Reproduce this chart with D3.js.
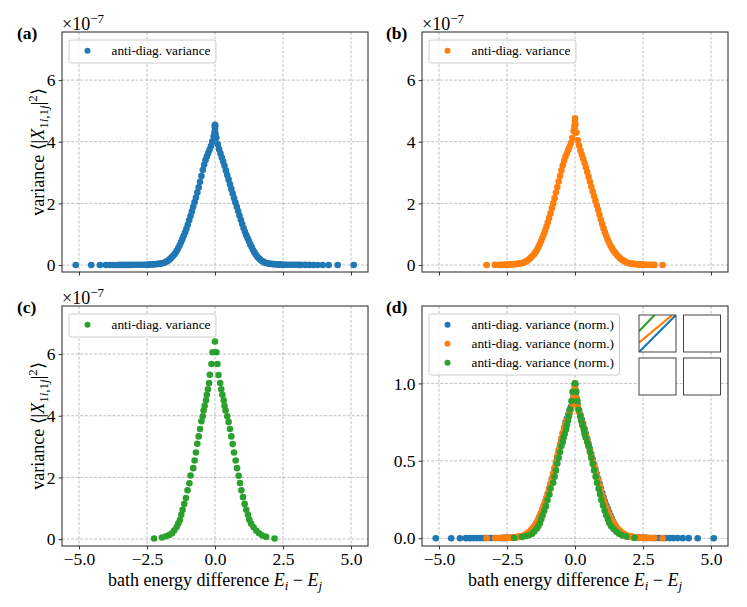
<!DOCTYPE html>
<html><head><meta charset="utf-8">
<script src="https://cdn.jsdelivr.net/npm/d3@7"></script>
<style>
body{margin:0;background:#fff}
svg{display:block}
text{font-family:"Liberation Serif","Times New Roman",serif;fill:#000}
</style>
</head><body>
<svg id="fig" width="747" height="607"></svg>
<script>
// ---------------- data (variance values in units of 1e-7) ----------------
const xTicks = [-5, -2.5, 0, 2.5, 5];
const xTickLabels = ["−5.0", "−2.5", "0.0", "2.5", "5.0"];
const yTicksRaw = [0, 2, 4, 6];
const yTickLabelsRaw = ["0", "2", "4", "6"];
const yTicksNorm = [0, 0.5, 1.0];
const yTickLabelsNorm = ["0.0", "0.5", "1.0"];
const panelLetters = ["(a)", "(b)", "(c)", "(d)"];
const legendLabel = "anti-diag. variance";
const legendLabelNorm = "anti-diag. variance (norm.)";

const centralE = [-2.50,-2.45,-2.40,-2.35,-2.30,-2.25,-2.20,-2.15,-2.10,-2.05,-2.00,
  -1.95,-1.90,-1.85,-1.80,-1.75,-1.70,-1.65,-1.60,-1.55,-1.50,
  -1.45,-1.40,-1.35,-1.30,-1.25,-1.20,-1.15,-1.10,-1.05,-1.00,
  -0.95,-0.90,-0.85,-0.80,-0.75,-0.70,-0.65,-0.60,-0.55,-0.50,
  -0.45,-0.40,-0.35,-0.30,-0.25,-0.20,-0.15,-0.10,-0.05,
  0.00,
  0.05,0.10,0.15,0.20,0.25,0.30,0.35,0.40,0.45,
  0.50,0.55,0.60,0.65,0.70,0.75,0.80,0.85,0.90,0.95,
  1.00,1.05,1.10,1.15,1.20,1.25,1.30,1.35,1.40,1.45,
  1.50,1.55,1.60,1.65,1.70,1.75,1.80,1.85,1.90,1.95,
  2.00,2.05,2.10,2.15,2.20,2.25,2.30,2.35,2.40,2.45,2.50];

const blueCentral = [0.012,0.014,0.016,0.018,0.021,0.024,0.027,0.031,0.036,0.042,0.048,
  0.055,0.068,0.085,0.105,0.13,0.16,0.20,0.245,0.29,0.34,
  0.40,0.47,0.55,0.64,0.74,0.84,0.95,1.06,1.18,1.31,
  1.45,1.59,1.74,1.89,2.04,2.19,2.35,2.52,2.70,2.89,
  3.08,3.25,3.40,3.52,3.63,3.74,3.86,4.01,4.17,
  4.40,
  4.12,3.92,3.76,3.62,3.49,3.36,3.22,3.07,2.92,
  2.77,2.62,2.47,2.32,2.17,2.03,1.89,1.75,1.61,1.47,
  1.33,1.20,1.08,0.97,0.87,0.77,0.67,0.58,0.49,0.41,
  0.34,0.28,0.23,0.185,0.15,0.12,0.095,0.077,0.063,0.052,
  0.045,0.039,0.034,0.030,0.026,0.023,0.020,0.018,0.016,0.014,0.012];

const blueExtraE = [0.00,-0.01,0.01,-0.02,0.02,0.00,
  -5.12,-4.55,-4.23,-4.01,-3.86,-3.73,-3.60,-3.49,-3.37,-3.27,-3.15,-3.05,-2.95,-2.85,-2.75,-2.65,-2.58,
  2.58,2.65,2.75,2.85,2.95,3.05,3.15,3.32,3.47,3.61,3.77,3.96,4.18,4.51,5.10];
const blueExtraV = [4.55,4.50,4.52,4.28,4.25,4.22,
  0.001,0.002,0.002,0.003,0.003,0.004,0.004,0.005,0.005,0.006,0.006,0.007,0.008,0.008,0.009,0.010,0.011,
  0.011,0.010,0.009,0.008,0.008,0.007,0.006,0.005,0.005,0.004,0.004,0.003,0.003,0.002,0.001];

const orangeCentral = [0.013,0.015,0.017,0.020,0.023,0.027,0.031,0.036,0.042,0.048,0.055,
  0.062,0.077,0.096,0.12,0.15,0.18,0.22,0.265,0.31,0.36,
  0.42,0.49,0.58,0.67,0.77,0.88,0.99,1.11,1.24,1.38,
  1.53,1.68,1.84,2.00,2.17,2.35,2.53,2.71,2.89,3.07,
  3.24,3.38,3.51,3.62,3.73,3.84,3.96,4.12,4.35,
  4.55,
  4.30,4.05,3.88,3.72,3.58,3.45,3.31,3.17,3.02,
  2.86,2.70,2.54,2.39,2.24,2.09,1.94,1.79,1.63,1.48,
  1.33,1.19,1.06,0.94,0.83,0.73,0.64,0.56,0.49,0.425,
  0.37,0.32,0.27,0.23,0.19,0.16,0.13,0.105,0.085,0.07,
  0.058,0.05,0.043,0.037,0.032,0.028,0.024,0.021,0.018,0.015,0.013];

const orangeExtraE = [0.00,0.00,0.01,-0.02,-0.01,0.02,
  -3.25,-2.94,-2.78,-2.70,-2.63,-2.56, 2.56,2.63,2.73,2.82,2.92,3.22];
const orangeExtraV = [4.76,4.65,4.55,4.49,4.38,4.30,
  0.003,0.005,0.007,0.008,0.009,0.011, 0.011,0.009,0.008,0.007,0.005,0.003];

const greenE = [-2.24,-1.95,-1.80,-1.68,-1.58,-1.50,-1.41,-1.35,-1.29,-1.24,-1.19,-1.13,-1.07,-1.01,-0.94,
  -0.90,-0.80,-0.75,-0.70,-0.65,-0.60,-0.55,-0.50,-0.45,-0.42,-0.38,-0.33,-0.30,-0.26,-0.22,-0.19,-0.13,-0.09,
  0.00,
  0.05,0.09,0.13,0.19,0.23,0.27,0.32,0.35,0.39,0.45,0.50,0.55,0.60,0.65,0.70,0.76,0.81,0.87,0.92,0.97,
  1.03,1.09,1.15,1.21,1.26,1.33,1.42,1.52,1.62,1.73,1.88,2.19];
const greenV = [0.02,0.05,0.09,0.13,0.19,0.28,0.39,0.50,0.62,0.79,0.95,1.14,1.33,1.58,1.81,
  2.06,2.30,2.55,2.81,3.09,3.33,3.57,3.82,3.98,4.17,4.32,4.50,4.68,4.86,5.06,5.33,5.68,6.06,
  6.41,
  6.06,5.68,5.32,5.06,4.86,4.68,4.50,4.32,4.17,3.98,3.80,3.57,3.33,3.08,2.81,2.55,2.30,2.05,1.82,1.58,
  1.36,1.14,0.95,0.79,0.63,0.50,0.38,0.27,0.19,0.12,0.07,0.02];

// ---------------- assemble ----------------
const C = {blue:"#1f77b4", orange:"#ff7f0e", green:"#2ca02c"};
const zip = (E, V) => E.map((e, i) => ({e, v: V[i]}));
const bluePts = zip(centralE, blueCentral).concat(zip(blueExtraE, blueExtraV));
const orangePts = zip(centralE, orangeCentral).concat(zip(orangeExtraE, orangeExtraV));
const greenPts = zip(greenE, greenV);
const norm = pts => { const m = d3.max(pts, d => d.v); return pts.map(d => ({e: d.e, v: d.v / m})); };

const svg = d3.select("#fig");
const W = 306, H = 240;
const FS = 18, FST = 17.5, FSS = 13;
const xScale = d3.scaleLinear().domain([-5.625, 5.625]).range([0, W]);
const yRaw = d3.scaleLinear().domain([-0.225, 7.56]).range([H, 0]);
const yNorm = d3.scaleLinear().domain([-0.05, 1.5]).range([H, 0]);
const R = 3.3;

function panel(cfg) {
  const g = svg.append("g").attr("transform", `translate(${cfg.x0},${cfg.y0})`);
  const y = cfg.y;
  const clipId = "clip" + cfg.id;
  g.append("clipPath").attr("id", clipId).append("rect").attr("width", W).attr("height", H);

  // grid
  const grid = g.append("g").attr("stroke", "#b0b0b0").attr("stroke-width", 0.8)
    .attr("stroke-dasharray", "3,1.6").attr("fill", "none");
  xTicks.forEach(t => grid.append("line").attr("x1", xScale(t)).attr("x2", xScale(t)).attr("y1", 0).attr("y2", H));
  cfg.yTicks.forEach(t => grid.append("line").attr("x1", 0).attr("x2", W).attr("y1", y(t)).attr("y2", y(t)));

  // points
  const pg = g.append("g").attr("clip-path", `url(#${clipId})`);
  cfg.series.forEach(s => {
    pg.append("g").attr("fill", s.color).selectAll("circle").data(s.pts).join("circle")
      .attr("cx", d => xScale(d.e)).attr("cy", d => y(d.v)).attr("r", R);
  });

  // axes
  const xa = g.append("g").attr("transform", `translate(0,${H})`)
    .call(d3.axisBottom(xScale).tickValues(xTicks).tickSize(3.5).tickPadding(3)
      .tickFormat((d, i) => cfg.xLabels ? xTickLabels[i] : ""));
  const ya = g.append("g")
    .call(d3.axisLeft(y).tickValues(cfg.yTicks).tickSize(3.5).tickPadding(3)
      .tickFormat((d, i) => cfg.yLabels[i]));
  [xa, ya].forEach(a => {
    a.select(".domain").remove();
    a.selectAll(".tick line").attr("stroke", "#222").attr("stroke-width", 0.9);
    a.selectAll(".tick text").attr("font-family", "Liberation Serif, serif").attr("font-size", FST).attr("fill", "#000");
  });
  g.append("rect").attr("width", W).attr("height", H).attr("fill", "none")
    .attr("stroke", "#222").attr("stroke-width", 1);

  // legend
  const lg = g.append("g").attr("transform", "translate(7,8)");
  const box = lg.append("rect").attr("rx", 2.5).attr("fill", "#fff").attr("fill-opacity", 0.8)
    .attr("stroke", "#cccccc").attr("stroke-width", 1);
  let maxW = 0;
  cfg.series.forEach((s, i) => {
    lg.append("circle").attr("cx", 18.5).attr("cy", 10.7 + 19 * i).attr("r", 3).attr("fill", s.color);
    const t = lg.append("text").attr("x", 42.5).attr("y", 15.3 + 19 * i).attr("font-size", 13.3).text(s.label);
    maxW = Math.max(maxW, t.node().getComputedTextLength());
  });
  box.attr("width", 42.5 + maxW + 5.5).attr("height", 23 + 19 * (cfg.series.length - 1));

  // offset text
  if (cfg.offset) {
    const t = g.append("text").attr("x", 0).attr("y", -2).attr("font-size", FS);
    t.append("tspan").text("×10");
    t.append("tspan").attr("dy", -7).attr("font-size", FSS).text("−7");
  }
  // panel letter
  svg.append("text").attr("x", cfg.lx).attr("y", cfg.y0 + 7).attr("font-size", 17.5)
    .attr("font-weight", "bold").text(cfg.letter);

  // y label
  if (cfg.ylabel) {
    const t = svg.append("text").attr("font-size", FS).attr("text-anchor", "middle")
      .attr("transform", `translate(44,${cfg.y0 + H / 2}) rotate(-90)`);
    t.append("tspan").text("variance ⟨|");
    t.append("tspan").attr("font-style", "italic").text("X");
    t.append("tspan").attr("dy", 4).attr("font-size", FSS).text("1");
    t.append("tspan").attr("font-size", FSS).attr("font-style", "italic").text("i");
    t.append("tspan").attr("font-size", FSS).text(",1");
    t.append("tspan").attr("font-size", FSS).attr("font-style", "italic").text("j");
    t.append("tspan").attr("dy", -4).text("|");
    t.append("tspan").attr("dy", -7).attr("font-size", FSS).text("2");
    t.append("tspan").attr("dy", 7).text("⟩");
  }
  // x label
  if (cfg.xlabel) {
    const t = svg.append("text").attr("font-size", FS).attr("text-anchor", "middle")
      .attr("x", cfg.x0 + W / 2).attr("y", 585.5);
    t.append("tspan").text("bath energy difference ");
    t.append("tspan").attr("font-style", "italic").text("E");
    t.append("tspan").attr("dy", 4).attr("font-size", FSS).attr("font-style", "italic").text("i");
    t.append("tspan").attr("dy", -4).text(" − ");
    t.append("tspan").attr("font-style", "italic").text("E");
    t.append("tspan").attr("dy", 4).attr("font-size", FSS).attr("font-style", "italic").text("j");
  }
  return g;
}

panel({id:"a", x0:62, y0:32, y:yRaw, yTicks:yTicksRaw, yLabels:yTickLabelsRaw, xLabels:false,
  series:[{pts:bluePts, color:C.blue, label:legendLabel}], offset:true, letter:panelLetters[0], lx:17, ylabel:true});
panel({id:"b", x0:422, y0:32, y:yRaw, yTicks:yTicksRaw, yLabels:yTickLabelsRaw, xLabels:false,
  series:[{pts:orangePts, color:C.orange, label:legendLabel}], offset:true, letter:panelLetters[1], lx:386});
panel({id:"c", x0:62, y0:306, y:yRaw, yTicks:yTicksRaw, yLabels:yTickLabelsRaw, xLabels:true,
  series:[{pts:greenPts, color:C.green, label:legendLabel}], offset:true, letter:panelLetters[2], lx:17, ylabel:true, xlabel:true});
const gd = panel({id:"d", x0:422, y0:306, y:yNorm, yTicks:yTicksNorm, yLabels:yTickLabelsNorm, xLabels:true,
  series:[{pts:norm(bluePts), color:C.blue, label:legendLabelNorm},
          {pts:norm(orangePts), color:C.orange, label:legendLabelNorm},
          {pts:norm(greenPts), color:C.green, label:legendLabelNorm}],
  offset:false, letter:panelLetters[3], lx:386, xlabel:true});

// inset (2x2 blocks) in panel d
const S = 37;
const cells = [[217, 9], [261.5, 9], [217, 52], [261.5, 52]];
cells.forEach((c, i) => {
  const cg = gd.append("g").attr("transform", `translate(${c[0]},${c[1]})`);
  cg.append("rect").attr("width", S).attr("height", S).attr("fill", "#fff");
  if (i === 0) {
    cg.append("clipPath").attr("id", "insetclip").append("rect").attr("width", S).attr("height", S);
    const u = d3.scaleLinear().domain([0, 1]).range([0, S]);
    const v = d3.scaleLinear().domain([0, 1]).range([S, 0]);
    const lines = [
      {c: C.blue, p: [[0, 0], [1, 1]]},
      {c: C.orange, p: [[0, 0.25], [0.9, 1]]},
      {c: C.green, p: [[0, 0.56], [0.42, 1]]}
    ];
    const lgc = cg.append("g").attr("clip-path", "url(#insetclip)");
    lines.forEach(l => lgc.append("line")
      .attr("x1", u(l.p[0][0])).attr("y1", v(l.p[0][1])).attr("x2", u(l.p[1][0])).attr("y2", v(l.p[1][1]))
      .attr("stroke", l.c).attr("stroke-width", 2.2));
  }
  cg.append("rect").attr("width", S).attr("height", S).attr("fill", "none")
    .attr("stroke", "#444").attr("stroke-width", 1);
});
</script>
</body></html>
